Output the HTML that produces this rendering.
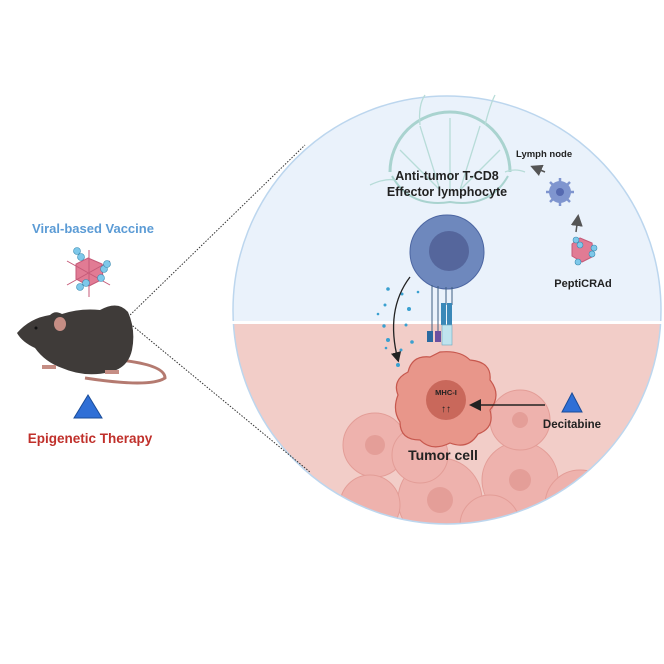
<!DOCTYPE html>
<html><head><meta charset="utf-8"><style>
body{margin:0;background:#fff}
svg{display:block}
text{font-family:"Liberation Sans",sans-serif;font-weight:bold}
</style></head><body>
<svg width="664" height="664" viewBox="0 0 664 664">
<defs>
<clipPath id="c"><circle cx="447" cy="310" r="214"/></clipPath>
<marker id="ah" markerWidth="8" markerHeight="8" refX="6" refY="4" orient="auto"><path d="M0,0 L8,4 L0,8 Z" fill="#222"/></marker>
<marker id="ag" markerWidth="8" markerHeight="8" refX="6" refY="4" orient="auto"><path d="M0,0 L8,4 L0,8 Z" fill="#555"/></marker>
</defs>
<g clip-path="url(#c)">
<rect x="230" y="90" width="440" height="231" fill="#eaf2fb"/>
<rect x="230" y="324" width="440" height="220" fill="#f2cdc8"/>
<g fill="#eeb2ad" stroke="#e39d97" stroke-width="1">
<circle cx="375" cy="445" r="32"/><circle cx="440" cy="500" r="42"/><circle cx="520" cy="480" r="38"/>
<circle cx="580" cy="505" r="35"/><circle cx="370" cy="505" r="30"/><circle cx="520" cy="420" r="30"/>
<circle cx="490" cy="525" r="30"/><circle cx="420" cy="455" r="28"/>
</g>
<g fill="#e49e98"><circle cx="375" cy="445" r="10"/><circle cx="440" cy="500" r="13"/><circle cx="520" cy="480" r="11"/><circle cx="580" cy="505" r="10"/><circle cx="520" cy="420" r="8"/></g>
</g>
<circle cx="447" cy="310" r="214" fill="none" stroke="#bcd6ee" stroke-width="1.5"/>
<rect x="230" y="321" width="440" height="3" fill="#fff"/>
<!-- lymph node -->
<g fill="none" stroke="#a9d3cf" stroke-width="3">
<path d="M390,172 A60,60 0 0 1 510,172"/>
<path d="M392,176 Q410,208 450,202 Q490,208 508,176" stroke-width="2"/>
</g>
<g stroke="#b7dcd8" stroke-width="1.3" fill="none">
<line x1="450" y1="118" x2="450" y2="192"/><line x1="420" y1="126" x2="440" y2="190"/><line x1="480" y1="126" x2="460" y2="190"/>
<line x1="400" y1="150" x2="440" y2="190"/><line x1="500" y1="150" x2="460" y2="190"/>
<path d="M420,125 Q418,105 425,95"/><path d="M485,125 Q490,105 495,95"/>
<path d="M370,185 Q385,178 395,180"/><path d="M505,172 Q515,168 525,172"/>
</g>
<text x="447" y="180" font-size="12.5" text-anchor="middle" fill="#222">Anti-tumor T-CD8</text>
<text x="447" y="196" font-size="12.5" text-anchor="middle" fill="#222">Effector lymphocyte</text>
<text x="516" y="157" font-size="9.5" fill="#222">Lymph node</text>
<line x1="545" y1="172" x2="533" y2="167" stroke="#555" stroke-width="1.5" marker-end="url(#ag)"/>
<g fill="#7f95cf"><circle cx="560" cy="192" r="11"/></g>
<g stroke="#7f95cf" stroke-width="2.5">
<line x1="560" y1="178" x2="560" y2="206"/><line x1="546" y1="192" x2="574" y2="192"/>
<line x1="550" y1="182" x2="570" y2="202"/><line x1="570" y1="182" x2="550" y2="202"/></g>
<circle cx="560" cy="192" r="4" fill="#5569b0"/>
<line x1="576" y1="232" x2="578" y2="217" stroke="#555" stroke-width="1.5" marker-end="url(#ag)"/>
<polygon points="580,238 592,243 594,256 582,262 572,256 572,244" fill="#e17b94" stroke="#c55a78"/>
<g fill="#7ec8ea" stroke="#3a8bb0" stroke-width="0.6"><circle cx="576" cy="240" r="3"/><circle cx="580" cy="245" r="3"/><circle cx="594" cy="248" r="3"/><circle cx="592" cy="254" r="3"/><circle cx="578" cy="262" r="3"/></g>
<text x="583" y="287" font-size="11" text-anchor="middle" fill="#222">PeptiCRAd</text>
<!-- T cell -->
<circle cx="447" cy="252" r="37" fill="#6e88bd" stroke="#4c66a2"/>
<circle cx="449" cy="251" r="20" fill="#55669c"/>
<g stroke="#3d5e80" stroke-width="1"><line x1="432" y1="285" x2="432" y2="335"/><line x1="438" y1="286" x2="438" y2="335"/><line x1="446" y1="287" x2="446" y2="305"/><line x1="452" y1="287" x2="452" y2="305"/></g>
<rect x="427" y="331" width="6" height="11" fill="#2a6aa0"/><rect x="435" y="331" width="6" height="11" fill="#6b50a0"/>
<rect x="441" y="303" width="5" height="22" fill="#3a88b8"/><rect x="447" y="303" width="5" height="22" fill="#3a88b8"/>
<rect x="442" y="325" width="10" height="20" fill="#bfe3ee" stroke="#6aa8c0" stroke-width="0.6"/>
<g fill="#3aa0d0"><circle cx="388" cy="289" r="1.8"/><circle cx="402" cy="294" r="1.5"/><circle cx="385" cy="305" r="1.5"/><circle cx="409" cy="309" r="2"/><circle cx="378" cy="314" r="1.3"/><circle cx="384" cy="326" r="1.7"/><circle cx="406" cy="325" r="1.5"/><circle cx="388" cy="340" r="2"/><circle cx="412" cy="342" r="1.8"/><circle cx="386" cy="348" r="1.3"/><circle cx="401" cy="350" r="1.5"/><circle cx="398" cy="365" r="2"/><circle cx="418" cy="292" r="1.3"/></g>
<path d="M410,277 Q385,310 398,360" fill="none" stroke="#222" stroke-width="1.3" marker-end="url(#ah)"/>
<!-- tumor cell -->
<path d="M440,352 Q460,350 470,360 Q492,362 490,380 Q502,395 490,410 Q495,428 478,434 Q468,450 450,443 Q432,452 420,440 Q400,440 400,422 Q392,410 398,395 Q392,380 408,372 Q412,355 430,357 Z" fill="#e8968a" stroke="#c7584e" stroke-width="1.2"/>
<circle cx="446" cy="400" r="20" fill="#c9685b"/>
<text x="446" y="395" font-size="7.5" text-anchor="middle" fill="#222">MHC-I</text>
<text x="446" y="412" font-size="10" text-anchor="middle" fill="#222">↑↑</text>
<line x1="545" y1="405" x2="472" y2="405" stroke="#222" stroke-width="1.5" marker-end="url(#ah)"/>
<polygon points="572,393 562,412 582,412" fill="#2f6fd6" stroke="#1a4c99"/>
<text x="572" y="428" font-size="11.5" text-anchor="middle" fill="#222">Decitabine</text>
<text x="443" y="460" font-size="14" text-anchor="middle" fill="#222">Tumor cell</text>
<!-- dotted lines -->
<g stroke="#333" stroke-width="1" stroke-dasharray="1.5,1.5">
<line x1="128" y1="317" x2="305" y2="145"/><line x1="128" y1="322" x2="310" y2="472"/></g>
<!-- left -->
<text x="93" y="233" font-size="13" text-anchor="middle" fill="#5b9bd5">Viral-based Vaccine</text>
<polygon points="88,258 102,264 103,279 89,286 76,279 76,264" fill="#e17b94" stroke="#c55a78"/>
<g stroke="#c55a78"><line x1="89" y1="250" x2="89" y2="297"/><line x1="67" y1="261" x2="110" y2="285"/><line x1="67" y1="285" x2="110" y2="261"/></g>
<g fill="#7ec8ea" stroke="#3a8bb0" stroke-width="0.6"><circle cx="77" cy="251" r="3.5"/><circle cx="81" cy="257" r="3.5"/><circle cx="104" cy="269" r="3.5"/><circle cx="107" cy="264" r="3.5"/><circle cx="101" cy="278" r="3.5"/><circle cx="80" cy="287" r="3.5"/><circle cx="86" cy="283" r="3.5"/></g>
<path d="M120,360 Q165,365 165,378 Q150,388 85,378" fill="none" stroke="#b47a70" stroke-width="3"/>
<path d="M17,333 Q30,318 50,315 Q55,310 62,314 Q80,308 100,310 Q118,300 128,312 Q136,330 132,350 Q128,368 110,372 Q85,378 62,368 Q45,362 35,348 Q22,342 17,333 Z" fill="#3f3b39"/>
<ellipse cx="60" cy="324" rx="6" ry="7" fill="#c58d84"/>
<circle cx="36" cy="328" r="1.5" fill="#111"/>
<g fill="#c58d84"><rect x="42" y="365" width="14" height="4"/><rect x="105" y="370" width="14" height="4"/></g>
<polygon points="88,395 74,418 102,418" fill="#2f6fd6" stroke="#1a4c99"/>
<text x="90" y="443" font-size="13.5" text-anchor="middle" fill="#c0302b">Epigenetic Therapy</text>
</svg>
</body></html>
